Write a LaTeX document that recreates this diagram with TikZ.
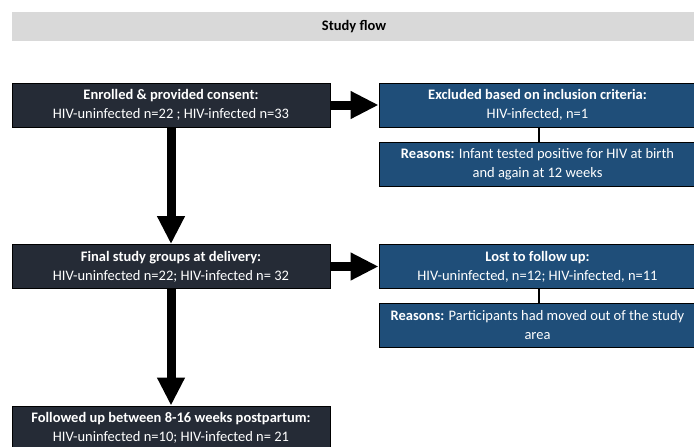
\documentclass[tikz,border=0pt]{standalone}
\usepackage{fontspec}
\setmainfont{Carlito}
\usetikzlibrary{arrows.meta}
\definecolor{darkbg}{HTML}{252B36}
\definecolor{bluebg}{HTML}{1F4E79}
\definecolor{headbg}{HTML}{D9D9D9}
\begin{document}
\begin{tikzpicture}[x=1pt,y=-1pt,
  boxtext/.style={text=white,align=center,inner sep=0pt,
    font=\fontsize{14.5}{19}\selectfont},
  darkbox/.style={boxtext,fill=darkbg,draw=black,line width=0.8pt,
    minimum width=318pt,minimum height=44pt},
  bluebox/.style={boxtext,fill=bluebg,draw=black,line width=0.8pt,
    minimum width=317pt,minimum height=44pt},
  bigarrow/.style={line width=9pt,-{Triangle[length=28pt,width=26pt]}},
  link/.style={line width=2pt}]
\useasboundingbox (0,0) rectangle (694,447);
\clip (0,0) rectangle (694,447);
\fill[white] (0,0) rectangle (694,447);
\node[fill=headbg,minimum width=684pt,minimum height=29pt,inner sep=0pt,
  font=\fontsize{14.5}{15}\selectfont\bfseries] (head) at (354,26.5) {Study flow};
\node[darkbox] (b1) at (171,105) {\textbf{Enrolled \& provided consent:}\\HIV-uninfected n=22 ; HIV-infected n=33};
\node[bluebox] (b2) at (537.5,105) {\textbf{Excluded based on inclusion criteria:}\\HIV-infected, n=1};
\node[bluebox] (b3) at (537.5,164) {\textbf{Reasons:} Infant tested positive for HIV at birth\\and again at 12 weeks};
\node[darkbox] (b4) at (171,266.5) {\textbf{Final study groups at delivery:}\\HIV-uninfected n=22; HIV-infected n= 32};
\node[bluebox] (b5) at (537.5,266.5) {\textbf{Lost to follow up:}\\HIV-uninfected, n=12; HIV-infected, n=11};
\node[bluebox] (b6) at (537.5,325) {\textbf{Reasons:} Participants had moved out of the study\\area};
\node[darkbox] (b7) at (171,428) {\textbf{Followed up between 8-16 weeks postpartum:}\\HIV-uninfected n=10; HIV-infected n= 21};
\draw[bigarrow] (b1.east) -- (b2.west);
\draw[bigarrow] (b4.east) -- (b5.west);
\draw[bigarrow] (b1.south) -- (b4.north);
\draw[bigarrow] (b4.south) -- (b7.north);
\draw[link] ([xshift=1.5pt]b2.south) -- ([xshift=1.5pt]b3.north);
\draw[link] ([xshift=1.5pt]b5.south) -- ([xshift=1.5pt]b6.north);
\end{tikzpicture}
\end{document}
